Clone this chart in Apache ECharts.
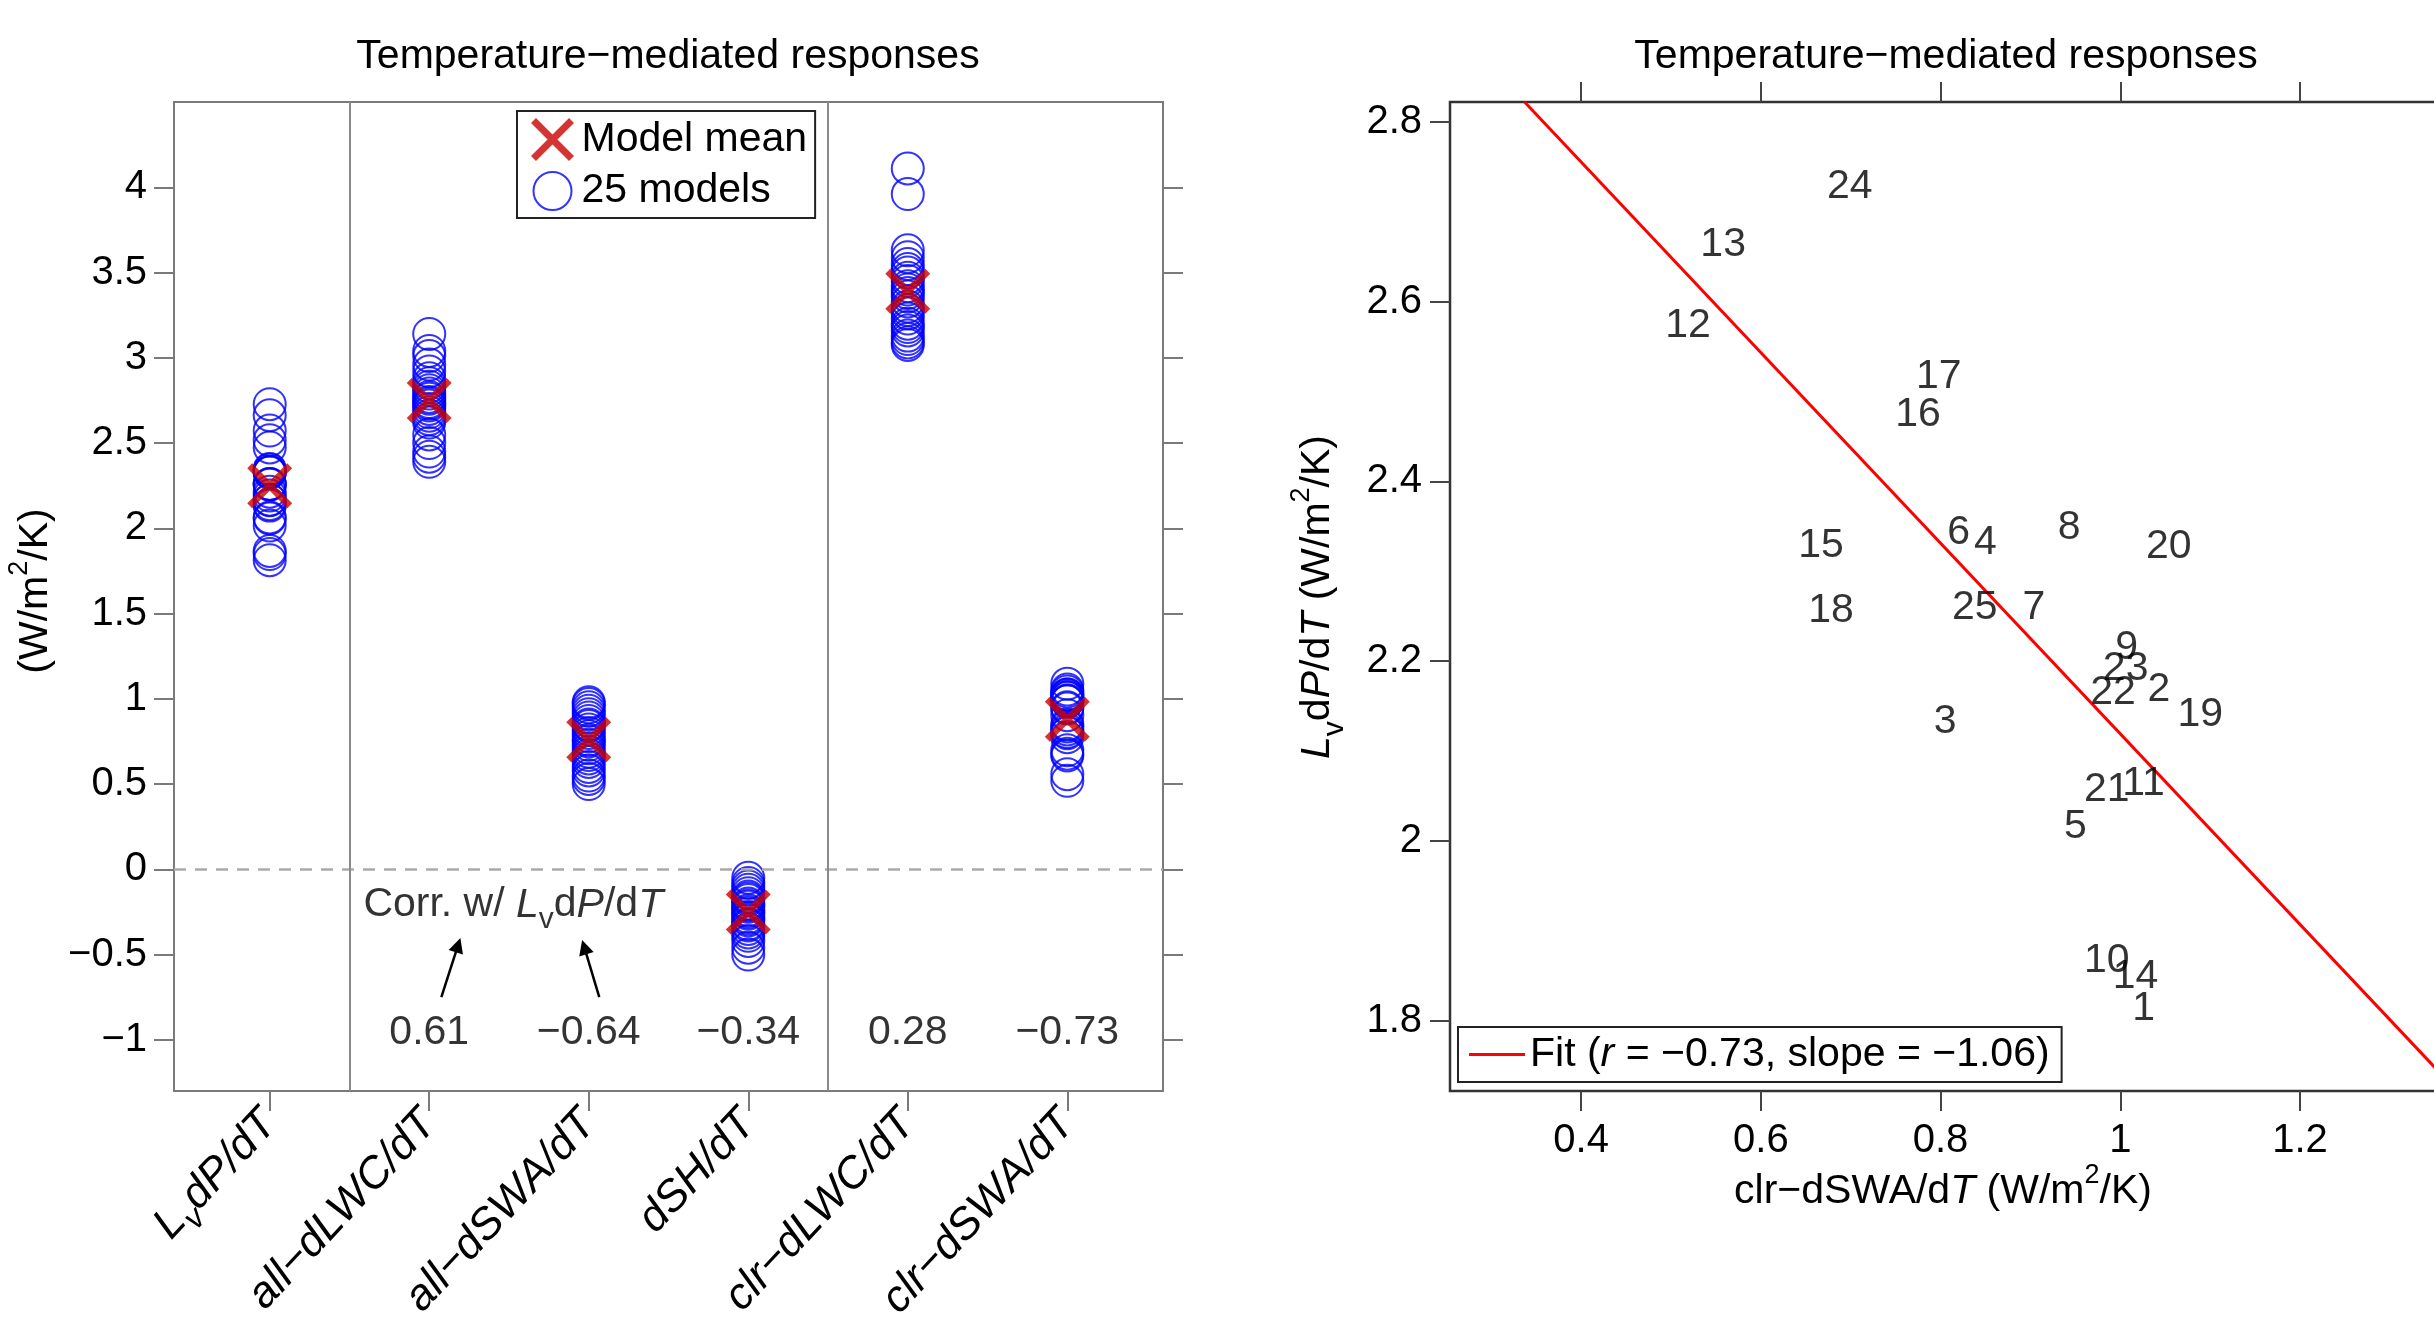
<!DOCTYPE html>
<html>
<head>
<meta charset="utf-8">
<script src="https://cdn.jsdelivr.net/npm/echarts@6/dist/echarts.min.js"></script>
<style>
  html, body { margin: 0; padding: 0; background: #fff; overflow: hidden; }
  #main { width: 2434px; height: 1317px; }
</style>
</head>
<body>
<div id="main"></div>
<script>
const FONT = '"Liberation Sans", Arial, Helvetica, sans-serif';

// left panel terms (rich markup: {s|..} = subscript)
const categories = ['L{s|v}dP/dT', 'all\u2212dLWC/dT', 'all\u2212dSWA/dT', 'dSH/dT', 'clr\u2212dLWC/dT', 'clr\u2212dSWA/dT'];

// per-model values, model order 1..25 (used in both panels)
const lvdpdt  = [1.813, 2.168, 2.133, 2.332, 2.016, 2.343, 2.260, 2.348, 2.215, 1.867, 2.064, 2.573, 2.663,
                 1.849, 2.329, 2.474, 2.517, 2.256, 2.141, 2.327, 2.057, 2.165, 2.192, 2.728, 2.260];
const clrDswa = [1.026, 1.043, 0.805, 0.850, 0.950, 0.820, 0.904, 0.943, 1.007, 0.985, 1.026, 0.519, 0.558,
                 1.017, 0.667, 0.775, 0.798, 0.678, 1.089, 1.054, 0.985, 0.992, 1.006, 0.699, 0.838];

// other terms
const allDlwc = [3.14, 3.04, 3.01, 2.96, 2.92, 2.88, 2.85, 2.83, 2.81, 2.79, 2.77, 2.76, 2.74, 2.73, 2.72,
                 2.70, 2.68, 2.66, 2.64, 2.62, 2.55, 2.50, 2.45, 2.42, 2.39];
const allDswa = [0.98, 0.97, 0.95, 0.93, 0.91, 0.89, 0.87, 0.85, 0.84, 0.82, 0.80, 0.78, 0.76, 0.75, 0.73,
                 0.71, 0.69, 0.67, 0.65, 0.63, 0.60, 0.58, 0.55, 0.53, 0.50];
const dsh     = [-0.05, -0.08, -0.10, -0.12, -0.14, -0.16, -0.17, -0.18, -0.20, -0.21, -0.22, -0.24, -0.25,
                 -0.26, -0.28, -0.29, -0.30, -0.32, -0.33, -0.35, -0.37, -0.39, -0.42, -0.46, -0.50];
const clrDlwc = [4.11, 3.96, 3.63, 3.59, 3.55, 3.52, 3.50, 3.47, 3.45, 3.42, 3.40, 3.38, 3.36, 3.33, 3.30,
                 3.28, 3.26, 3.23, 3.20, 3.18, 3.16, 3.13, 3.11, 3.09, 3.075];

const modelMeans = [2.25, 2.75, 0.76, -0.25, 3.39, 0.88];
const corrWithLvdp = [0.61, -0.64, -0.34, 0.28, -0.73];   // terms 2..6

const yTicksLeft  = [-1, -0.5, 0, 0.5, 1, 1.5, 2, 2.5, 3, 3.5, 4];
const xTicksRight = [0.4, 0.6, 0.8, 1, 1.2];
const yTicksRight = [1.8, 2, 2.2, 2.4, 2.6, 2.8];

const fitLine = [[0.337, 2.822], [1.357, 1.741]];
const fitText = 'Fit ({i|r} = \u22120.73, slope = \u22121.06)';

const columns = [lvdpdt, allDlwc, allDswa, dsh, clrDlwc, clrDswa];
const minus = s => String(s).replace('-', '\u2212');
const fmt = v => minus(+v.toFixed(2));

const sub = (size, pad) => ({ fontSize: size, fontFamily: FONT, color: '#000', padding: [pad, 0, 0, 0] });
const ital = size => ({ fontSize: size, fontFamily: FONT, color: '#000', fontStyle: 'italic' });

// zrender-style rich for graphic texts
const zsub = (size, pad) => ({ fontSize: size, fontFamily: FONT, fill: '#000', padding: [pad, 0, 0, 0] });
const zsup = (size, pad) => ({ fontSize: size, fontFamily: FONT, fill: '#000', padding: [0, 0, pad, 0] });
const zital = size => ({ fontSize: size, fontFamily: FONT, fill: '#000', fontStyle: 'italic' });

const chart = echarts.init(document.getElementById('main'));

const gtext = (x, y, text, rot) => ({
  type: 'text', x: x, y: y, rotation: rot || 0, silent: true,
  style: {
    text: text, fontSize: 41, fontFamily: FONT, fill: '#000',
    align: 'center', verticalAlign: 'middle', textAlign: 'center', textVerticalAlign: 'middle',
    rich: { i: zital(41), sub: zsub(30, 34), sup: zsup(27, 32) }
  }
});

const tickStyle = c => ({ color: c, width: 2 });

const option = {
  animation: false,
  textStyle: { fontFamily: FONT, color: '#000' },
  grid: [
    { left: 174, top: 102, width: 989, height: 989, show: true, borderColor: '#7a7a7a', borderWidth: 2,
      containLabel: false, outerBoundsMode: 'none' },
    { left: 1450, top: 102, width: 991, height: 989, show: true, borderColor: '#333', borderWidth: 2.5,
      containLabel: false, outerBoundsMode: 'none' }
  ],
  xAxis: [
    {
      type: 'value', gridIndex: 0, min: 0.4, max: 6.6,
      axisLine: { show: false, onZero: false }, splitLine: { show: false },
      axisTick: { customValues: [1, 2, 3, 4, 5, 6], length: 20, lineStyle: tickStyle('#7a7a7a') },
      axisLabel: {
        customValues: [1, 2, 3, 4, 5, 6], formatter: v => categories[Math.round(v) - 1],
        rotate: 47, margin: 26, fontSize: 44, fontStyle: 'italic', color: '#000',
        rich: { s: Object.assign(sub(32, 30), { fontStyle: 'italic' }) }
      }
    },
    {
      type: 'value', gridIndex: 1, min: 0.254, max: 1.357,
      axisLine: { show: false, onZero: false }, splitLine: { show: false },
      axisTick: { customValues: xTicksRight, length: 20, lineStyle: tickStyle('#444') },
      axisLabel: { customValues: xTicksRight, formatter: fmt, margin: 30, fontSize: 40, color: '#000' }
    },
    {
      type: 'value', gridIndex: 1, position: 'top', min: 0.254, max: 1.357,
      axisLine: { show: false, onZero: false }, splitLine: { show: false },
      axisTick: { customValues: xTicksRight, length: 20, lineStyle: tickStyle('#444') },
      axisLabel: { show: false }
    }
  ],
  yAxis: [
    {
      type: 'value', gridIndex: 0, min: -1.3, max: 4.5,
      axisLine: { show: false, onZero: false }, splitLine: { show: false },
      axisTick: { customValues: yTicksLeft, length: 20, lineStyle: tickStyle('#7a7a7a') },
      axisLabel: { customValues: yTicksLeft, formatter: fmt, margin: 27, fontSize: 40, color: '#000' }
    },
    {
      type: 'value', gridIndex: 0, position: 'right', min: -1.3, max: 4.5,
      axisLine: { show: false, onZero: false }, splitLine: { show: false },
      axisTick: { customValues: yTicksLeft, length: 20, lineStyle: tickStyle('#7a7a7a') },
      axisLabel: { show: false }
    },
    {
      type: 'value', gridIndex: 1, min: 1.722, max: 2.822,
      axisLine: { show: false, onZero: false }, splitLine: { show: false },
      axisTick: { customValues: yTicksRight, length: 20, lineStyle: tickStyle('#444') },
      axisLabel: { customValues: yTicksRight, formatter: fmt, margin: 28, fontSize: 40, color: '#000' }
    }
  ],
  legend: [
    {
      data: [{ name: 'Model mean', itemStyle: { borderWidth: 7 } }, { name: '25 models' }],
      orient: 'vertical', left: 517, top: 111, itemWidth: 48, itemHeight: 38, itemGap: 8,
      padding: [6, 8, 6, 13], borderColor: '#222', borderWidth: 2, selectedMode: false,
      textStyle: { fontSize: 41, color: '#000', lineHeight: 42 }
    },
    {
      data: [{ name: 'Fit', icon: 'rect' }], left: 1458, top: 1027, itemWidth: 56, itemHeight: 3,
      padding: [4, 12, 4, 11], borderColor: '#222', borderWidth: 2, selectedMode: false,
      formatter: () => fitText,
      textStyle: { fontSize: 41, color: '#000', lineHeight: 47, rich: { i: ital(41) } }
    }
  ],
  graphic: [
    gtext(668, 57, 'Temperature\u2212mediated responses'),
    gtext(1946, 57, 'Temperature\u2212mediated responses'),
    gtext(36, 591, '(W/m{sup|2}/K)', Math.PI / 2),
    gtext(1318, 597, '{i|L}{sub|v}d{i|P}/d{i|T} (W/m{sup|2}/K)', Math.PI / 2),
    gtext(1943, 1192, 'clr\u2212dSWA/d{i|T} (W/m{sup|2}/K)')
  ],
  series: [
    {
      name: '25 models', type: 'scatter', xAxisIndex: 0, yAxisIndex: 0, silent: true, z: 2,
      symbol: 'circle', symbolSize: 32, symbolKeepAspect: true,
      itemStyle: { color: 'rgba(0,0,0,0)', borderColor: '#0000ff', borderWidth: 2 },
      data: columns.flatMap((arr, i) => arr.map(v => [i + 1, v]))
    },
    {
      name: 'Model mean', type: 'scatter', xAxisIndex: 0, yAxisIndex: 0, silent: true, z: 3,
      symbol: 'path://M0,0L10,10M10,0L0,10', symbolSize: 40, symbolKeepAspect: true,
      itemStyle: { color: 'rgba(0,0,0,0)', borderColor: '#cc0000', borderWidth: 7 },
      data: modelMeans.map((m, i) => [i + 1, m])
    },
    {
      name: 'refs', type: 'scatter', xAxisIndex: 0, yAxisIndex: 0, silent: true, data: [],
      markLine: {
        silent: true, symbol: ['none', 'none'], label: { show: false },
        data: [
          { yAxis: 0, lineStyle: { color: '#aaaaaa', width: 2.5, type: [12, 9] } },
          { xAxis: 1.5, lineStyle: { color: '#8a8a8a', width: 2, type: 'solid' } },
          { xAxis: 4.5, lineStyle: { color: '#8a8a8a', width: 2, type: 'solid' } }
        ]
      }
    },
    {
      name: 'arrows', type: 'scatter', xAxisIndex: 0, yAxisIndex: 0, silent: true, data: [],
      markLine: {
        silent: true, symbol: ['none', 'triangle'], symbolSize: 15, label: { show: false },
        lineStyle: { color: '#000', width: 2.5, type: 'solid' },
        itemStyle: { color: '#000' },
        data: [
          [{ coord: [2.076, -0.749] }, { coord: [2.181, -0.444] }],
          [{ coord: [3.066, -0.749] }, { coord: [2.972, -0.456] }]
        ]
      }
    },
    {
      name: 'corr', type: 'scatter', xAxisIndex: 0, yAxisIndex: 0, silent: true,
      symbol: 'circle', symbolSize: 1, itemStyle: { color: 'rgba(0,0,0,0)' },
      label: { show: true, position: 'inside', fontSize: 41, color: '#000',
               formatter: p => minus(corrWithLvdp[p.dataIndex].toFixed(2)) },
      data: corrWithLvdp.map((c, i) => [i + 2, -0.96])
    },
    {
      name: 'corrTitle', type: 'scatter', xAxisIndex: 0, yAxisIndex: 0, silent: true,
      symbol: 'circle', symbolSize: 1, itemStyle: { color: 'rgba(0,0,0,0)' },
      label: {
        show: true, position: 'inside', fontSize: 41, color: '#000',
        formatter: 'Corr. w/ {i|L}{s|v}d{i|P}/d{i|T}',
        rich: { i: ital(41), s: sub(30, 30) }
      },
      data: [[2.527, -0.21]]
    },
    {
      name: 'Fit', type: 'line', xAxisIndex: 1, yAxisIndex: 2, silent: true, z: 2,
      symbol: 'none', clip: true,
      lineStyle: { color: '#ff0000', width: 3 }, itemStyle: { color: '#ff0000' },
      data: fitLine
    },
    {
      name: 'models', type: 'scatter', xAxisIndex: 1, yAxisIndex: 2, silent: true, z: 3,
      symbol: 'circle', symbolSize: 1, itemStyle: { color: 'rgba(0,0,0,0)' },
      label: { show: true, position: 'inside', fontSize: 41, color: '#000',
               formatter: p => String(p.dataIndex + 1) },
      data: clrDswa.map((x, i) => [x, lvdpdt[i]])
    }
  ]
};

chart.setOption(option);
</script>
</body>
</html>
